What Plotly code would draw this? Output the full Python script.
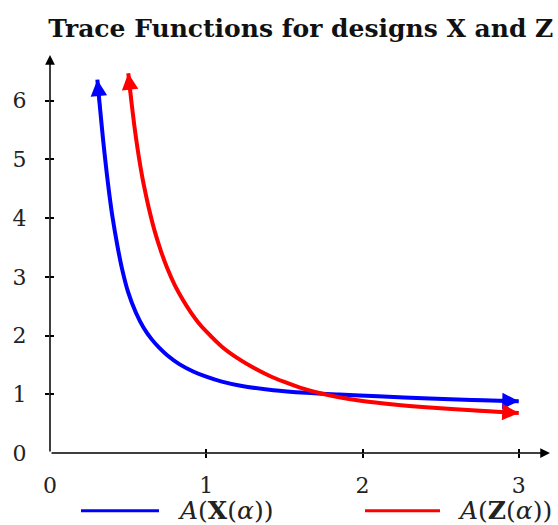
import plotly.graph_objects as go

# Data
alpha_x = [0.303, 0.32, 0.34, 0.36, 0.38, 0.40, 0.43, 0.46, 0.50, 0.55, 0.60,
           0.65, 0.70, 0.75, 0.83, 0.92, 1.00, 1.10, 1.22, 1.43, 1.64, 1.85,
           2.10, 2.43, 2.70, 3.00]
trace_x = [6.36, 5.88, 5.33, 4.84, 4.40, 4.02, 3.55, 3.15, 2.74, 2.39, 2.13,
           1.94, 1.79, 1.665, 1.51, 1.385, 1.30, 1.215, 1.145, 1.07, 1.025,
           0.995, 0.965, 0.928, 0.902, 0.88]

alpha_z = [0.501, 0.52, 0.54, 0.56, 0.58, 0.60, 0.63, 0.67, 0.71, 0.75, 0.80,
           0.85, 0.90, 0.95, 1.00, 1.10, 1.20, 1.30, 1.40, 1.50, 1.60, 1.75,
           1.85, 2.00, 2.20, 2.43, 2.70, 3.00]
trace_z = [6.47, 6.01, 5.57, 5.19, 4.86, 4.57, 4.20, 3.78, 3.44, 3.15, 2.85,
           2.61, 2.40, 2.22, 2.07, 1.81, 1.615, 1.455, 1.32, 1.21, 1.115, 1.005,
           0.950, 0.885, 0.826, 0.775, 0.727, 0.68]

x_tickvals = [0, 1, 2, 3]
y_tickvals = [0, 1, 2, 3, 4, 5, 6]
x_range = [0, 3.2]
y_range = [0, 6.78]

title_text = "<b>Trace Functions for designs X and Z</b>"
label_x = "<i>A</i>(<b>X</b>(<i>α</i>))"
label_z = "<i>A</i>(<b>Z</b>(<i>α</i>))"

BLUE = "#0000FF"
RED = "#FF0000"
FONT = "DejaVu Serif"

fig = go.Figure()
fig.add_trace(go.Scatter(x=alpha_x, y=trace_x, mode="lines",
                         line=dict(color=BLUE, width=4, shape="spline", smoothing=0.8),
                         showlegend=False, cliponaxis=False))
fig.add_trace(go.Scatter(x=alpha_z, y=trace_z, mode="lines",
                         line=dict(color=RED, width=4, shape="spline", smoothing=0.8),
                         showlegend=False, cliponaxis=False))
# helper traces for overlay axes (crossing ticks)
fig.add_trace(go.Scatter(x=[], y=[], xaxis="x2", yaxis="y2", showlegend=False))
fig.add_trace(go.Scatter(x=[], y=[], xaxis="x3", yaxis="y3", showlegend=False))

annotations = []
# arrowheads on both ends of each curve
for xs, ys, col in [(alpha_x, trace_x, BLUE), (alpha_z, trace_z, RED)]:
    for (hx, hy, tx, ty) in [(xs[0], ys[0], xs[1], ys[1]),
                             (xs[-1], ys[-1], xs[-2], ys[-2])]:
        annotations.append(dict(x=hx, y=hy, ax=tx, ay=ty, xref="x", yref="y",
                                axref="x", ayref="y", text="", showarrow=True,
                                arrowhead=2, arrowsize=1.1, arrowwidth=3,
                                arrowcolor=col, standoff=0))
# axis arrows
annotations.append(dict(x=x_range[1], y=0, ax=0, ay=0, xref="x", yref="y",
                        axref="x", ayref="y", text="", showarrow=True,
                        arrowhead=2, arrowsize=1.3, arrowwidth=1.5,
                        arrowcolor="black", standoff=0))
annotations.append(dict(x=0, y=y_range[1], ax=0, ay=0, xref="x", yref="y",
                        axref="x", ayref="y", text="", showarrow=True,
                        arrowhead=2, arrowsize=1.3, arrowwidth=1.5,
                        arrowcolor="black", standoff=0))
# manual legend
legend_y = -0.145
annotations.append(dict(x=0.252, y=legend_y, xref="paper", yref="paper",
                        text=label_x, showarrow=False, xanchor="left",
                        yanchor="middle", font=dict(family=FONT, size=25, color="#222")))
annotations.append(dict(x=0.812, y=legend_y, xref="paper", yref="paper",
                        text=label_z, showarrow=False, xanchor="left",
                        yanchor="middle", font=dict(family=FONT, size=25, color="#222")))

shapes = [
    dict(type="line", xref="paper", yref="paper", x0=0.062, x1=0.218,
         y0=legend_y, y1=legend_y, line=dict(color=BLUE, width=3)),
    dict(type="line", xref="paper", yref="paper", x0=0.63, x1=0.78,
         y0=legend_y, y1=legend_y, line=dict(color=RED, width=3)),
]

tickfont = dict(family=FONT, size=22, color="#222")

fig.update_layout(
    width=558, height=525,
    margin=dict(l=50, r=8, t=55, b=72),
    paper_bgcolor="white", plot_bgcolor="white",
    title=dict(text=title_text, x=0.539, xref="container", xanchor="center",
               y=0.947, yref="container", yanchor="middle",
               font=dict(family=FONT, size=25, color="#111")),
    xaxis=dict(range=x_range, tickvals=x_tickvals, ticks="outside", ticklen=0,
               showgrid=False, zeroline=False, showline=False,
               tickfont=tickfont, ticklabelstandoff=13),
    yaxis=dict(range=y_range, tickvals=y_tickvals, ticks="outside", ticklen=0,
               showgrid=False, zeroline=False, showline=False,
               tickfont=tickfont, ticklabelstandoff=18),
    xaxis2=dict(range=x_range, overlaying="x", anchor="y2", side="bottom",
                tickvals=x_tickvals[1:], ticks="outside", ticklen=4,
                tickwidth=1.5, tickcolor="black", showticklabels=False,
                showgrid=False, zeroline=False, showline=False),
    yaxis2=dict(range=y_range, overlaying="y", anchor="x2", side="left",
                tickvals=y_tickvals[1:], ticks="outside", ticklen=4,
                tickwidth=1.5, tickcolor="black", showticklabels=False,
                showgrid=False, zeroline=False, showline=False),
    xaxis3=dict(range=x_range, overlaying="x", anchor="y3", side="bottom",
                tickvals=x_tickvals[1:], ticks="inside", ticklen=4,
                tickwidth=1.5, tickcolor="black", showticklabels=False,
                showgrid=False, zeroline=False, showline=False),
    yaxis3=dict(range=y_range, overlaying="y", anchor="x3", side="left",
                tickvals=y_tickvals[1:], ticks="inside", ticklen=4,
                tickwidth=1.5, tickcolor="black", showticklabels=False,
                showgrid=False, zeroline=False, showline=False),
    annotations=annotations,
    shapes=shapes,
)

fig.write_html("out.html")
